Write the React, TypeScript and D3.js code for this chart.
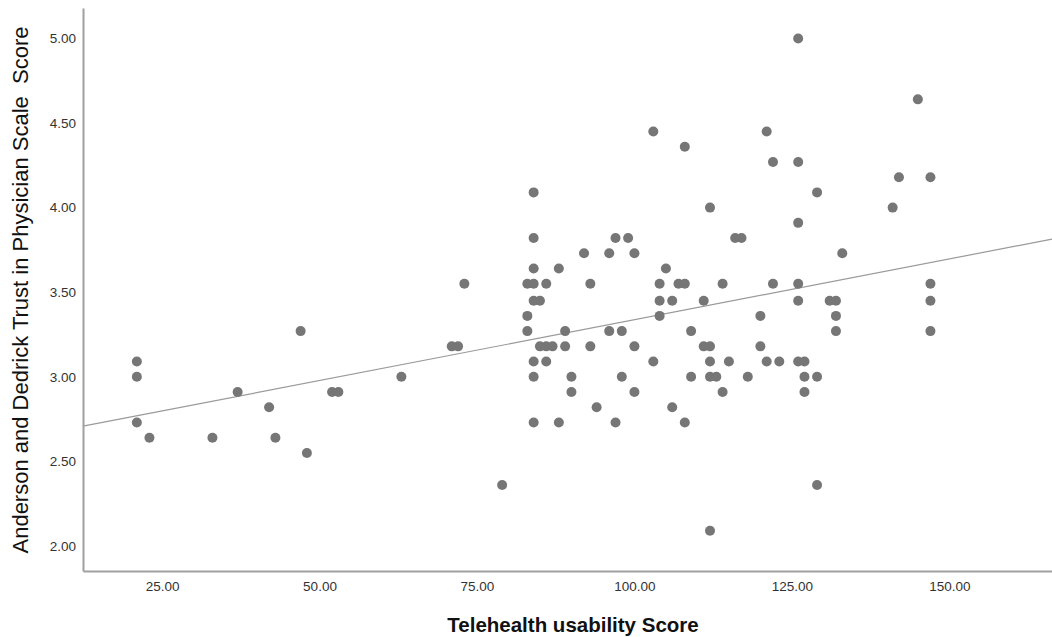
import React, { useEffect, useRef } from 'react';
import * as d3 from 'd3';

// Telehealth usability score (x) and trust score (y), one entry per respondent
const usability = [
  21, 21, 21, 23, 33, 37, 42, 43, 47, 48, 52, 53, 63, 71, 72, 73, 79,
  83, 83, 83, 84, 84, 84, 84, 84, 84, 84, 84, 85, 85, 86, 86, 86, 87,
  88, 88, 89, 89, 90, 90, 92, 93, 93, 94, 96, 96, 97, 97, 98, 98, 99,
  100, 100, 100, 103, 103, 104, 104, 104, 105, 106, 106, 107, 108, 108, 108,
  109, 109, 111, 111, 112, 112, 112, 112, 112, 113, 114, 114, 115, 116, 117,
  118, 120, 120, 121, 121, 122, 122, 123, 126, 126, 126, 126, 126, 126,
  127, 127, 127, 129, 129, 129, 131, 132, 132, 132, 133, 141, 142, 145,
  147, 147, 147, 147,
];

const trust = [
  3.09, 3.00, 2.73, 2.64, 2.64, 2.91, 2.82, 2.64, 3.27, 2.55, 2.91, 2.91, 3.00, 3.18, 3.18, 3.55, 2.36,
  3.55, 3.36, 3.27, 4.09, 3.82, 3.64, 3.55, 3.45, 3.09, 3.00, 2.73, 3.45, 3.18, 3.55, 3.18, 3.09, 3.18,
  3.64, 2.73, 3.27, 3.18, 3.00, 2.91, 3.73, 3.55, 3.18, 2.82, 3.73, 3.27, 3.82, 2.73, 3.27, 3.00, 3.82,
  3.73, 3.18, 2.91, 4.45, 3.09, 3.55, 3.45, 3.36, 3.64, 3.45, 2.82, 3.55, 4.36, 3.55, 2.73,
  3.27, 3.00, 3.45, 3.18, 4.00, 3.18, 3.09, 3.00, 2.09, 3.00, 3.55, 2.91, 3.09, 3.82, 3.82,
  3.00, 3.36, 3.18, 4.45, 3.09, 4.27, 3.55, 3.09, 5.00, 4.27, 3.91, 3.55, 3.45, 3.09,
  3.09, 3.00, 2.91, 4.09, 3.00, 2.36, 3.45, 3.45, 3.36, 3.27, 3.73, 4.00, 4.18, 4.64,
  4.18, 3.55, 3.45, 3.27,
];

const xTicks = [25, 50, 75, 100, 125, 150];
const yTicks = [2, 2.5, 3, 3.5, 4, 4.5, 5];

const xTitle = 'Telehealth usability Score';
const yTitle = 'Anderson and Dedrick Trust in Physician Scale  Score';

const font = 'Arial, "Liberation Sans", sans-serif';

const ScatterChart = () => {
  const svgRef = useRef<SVGSVGElement>(null);

  useEffect(() => {
    const width = 1052;
    const height = 637;
    const margin = { top: 8, right: 0, bottom: 66, left: 83 };

    const svg = d3.select(svgRef.current);
    svg.selectAll('*').remove();
    svg.attr('width', width).attr('height', height);

    const x = d3.scaleLinear()
      .domain([12.45, 166.3])
      .range([margin.left, width - margin.right]);

    const y = d3.scaleLinear()
      .domain([1.852, 5.18])
      .range([height - margin.bottom, margin.top]);

    const data = usability.map((u, i) => ({ x: u, y: trust[i] }));

    // least squares fit line (total)
    const mx = d3.mean(data, d => d.x) as number;
    const my = d3.mean(data, d => d.y) as number;
    const sxy = d3.sum(data, d => (d.x - mx) * (d.y - my));
    const sxx = d3.sum(data, d => (d.x - mx) * (d.x - mx));
    const slope = sxy / sxx;
    const intercept = my - slope * mx;
    const [x0, x1] = x.domain();

    svg.append('line')
      .attr('x1', x(x0))
      .attr('y1', y(intercept + slope * x0))
      .attr('x2', x(x1))
      .attr('y2', y(intercept + slope * x1))
      .attr('stroke', '#9a9a9a')
      .attr('stroke-width', 1.2);

    // points
    svg.selectAll('.dot')
      .data(data)
      .enter().append('circle')
      .attr('class', 'dot')
      .attr('cx', d => x(d.x))
      .attr('cy', d => y(d.y))
      .attr('r', 5)
      .attr('fill', '#767676');

    // axes
    const xAxis = svg.append('g')
      .attr('transform', `translate(0,${height - margin.bottom})`)
      .call(d3.axisBottom(x).tickValues(xTicks).tickSize(0).tickPadding(10).tickFormat(d3.format('.2f')));
    xAxis.select('.domain').attr('stroke', '#a0a0a0').attr('stroke-width', 2);

    const yAxis = svg.append('g')
      .attr('transform', `translate(${margin.left},0)`)
      .call(d3.axisLeft(y).tickValues(yTicks).tickSize(0).tickPadding(7).tickFormat(d3.format('.2f')));
    yAxis.select('.domain').attr('stroke', '#a0a0a0').attr('stroke-width', 2);

    svg.selectAll('.tick text')
      .style('font-family', font)
      .style('font-size', '13.5px')
      .style('fill', '#333');

    // axis titles
    svg.append('text')
      .attr('x', 573)
      .attr('y', 632)
      .attr('text-anchor', 'middle')
      .style('font-family', font)
      .style('font-size', '20.5px')
      .style('font-weight', 'bold')
      .style('fill', '#111')
      .text(xTitle);

    svg.append('text')
      .attr('transform', 'translate(28,290) rotate(-90)')
      .attr('text-anchor', 'middle')
      .style('font-family', font)
      .style('font-size', '22px')
      .style('white-space', 'pre')
      .style('fill', '#111')
      .text(yTitle);
  }, []);

  return (
    <div style={{ position: 'absolute', left: 0, top: 0, background: 'white' }}>
      <svg ref={svgRef} style={{ display: 'block' }}></svg>
    </div>
  );
};

export default function App() {
  return <ScatterChart />;
}
